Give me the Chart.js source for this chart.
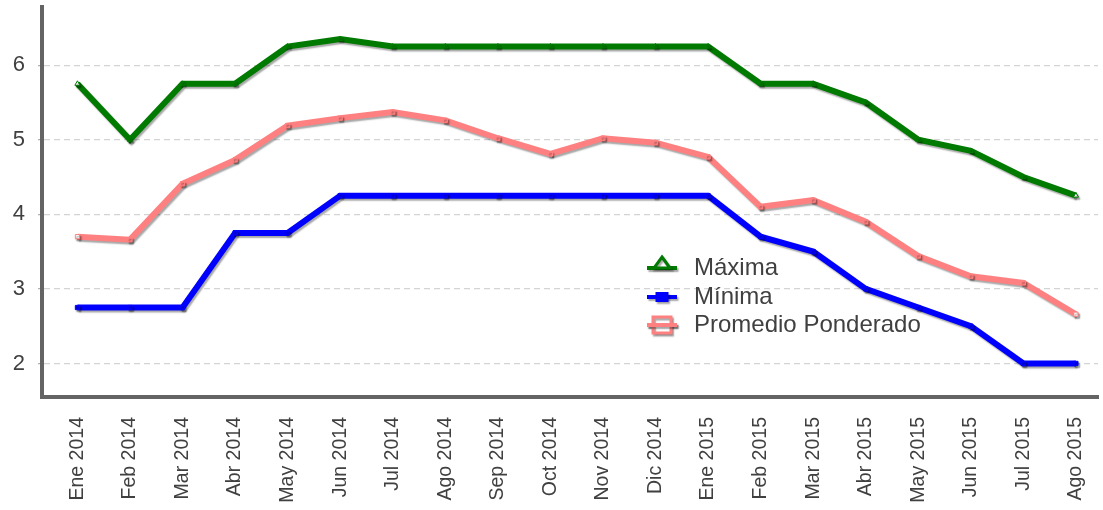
<!DOCTYPE html>
<html>
<head>
<meta charset="utf-8">
<script src="https://cdn.jsdelivr.net/npm/chart.js@4/dist/chart.umd.min.js"></script>
<style>
  html, body { margin: 0; padding: 0; background: #ffffff; }
  #wrap { width: 1103px; height: 510px; position: relative; }
</style>
</head>
<body>
<div id="wrap"><canvas id="c" width="1103" height="510"></canvas></div>
<script>
// Months shown on the horizontal axis
const months = ['Ene 2014','Feb 2014','Mar 2014','Abr 2014','May 2014','Jun 2014','Jul 2014','Ago 2014','Sep 2014','Oct 2014','Nov 2014','Dic 2014','Ene 2015','Feb 2015','Mar 2015','Abr 2015','May 2015','Jun 2015','Jul 2015','Ago 2015'];

// Rate series
const maxima   = [5.75,5.00,5.75,5.75,6.25,6.35,6.25,6.25,6.25,6.25,6.25,6.25,6.25,5.75,5.75,5.50,5.00,4.85,4.50,4.25];
const minima   = [2.75,2.75,2.75,3.75,3.75,4.25,4.25,4.25,4.25,4.25,4.25,4.25,4.25,3.70,3.50,3.00,2.75,2.50,2.00,2.00];
const promedio = [3.70,3.66,4.41,4.73,5.19,5.29,5.37,5.26,5.02,4.81,5.02,4.96,4.77,4.10,4.19,3.90,3.44,3.17,3.08,2.66];

// Value axis ticks
const yTicks = [2, 3, 4, 5, 6];

const FONT = "'Liberation Sans', Arial, sans-serif";
const TEXT = '#404040';
const AXIS = '#646464';
const GREEN = '#007a00';
const BLUE = '#0000ff';
const PINK = '#ff8080';

const toPoints = arr => arr.map((v, i) => ({ x: i, y: v }));
const last = months.length - 1;
// end markers are drawn hollow, inner ones filled with the line colour
const endHollow = color => c => (c.dataIndex === 0 || c.dataIndex === last) ? '#ffffff' : color;

function setShadow(ctx) {
  ctx.shadowColor = 'rgba(0,0,0,0.35)';
  ctx.shadowOffsetX = 1.5;
  ctx.shadowOffsetY = 2;
  ctx.shadowBlur = 1.5;
}

// Soft drop shadow under each series line
const shadowPlugin = {
  id: 'lineShadow',
  beforeDatasetDraw(chart) {
    chart.ctx.save();
    setShadow(chart.ctx);
  },
  afterDatasetDraw(chart) {
    chart.ctx.restore();
  }
};

// Legend placed inside the plot: a line stub with the series marker, then the label
const innerLegend = {
  id: 'innerLegend',
  afterDatasetsDraw(chart, args, opts) {
    const ctx = chart.ctx;
    const x0 = opts.x;
    chart.data.datasets.forEach((ds, i) => {
      const y = opts.rows[i];
      const cx = x0 + 15;
      ctx.save();
      setShadow(ctx);
      ctx.strokeStyle = ds.borderColor;
      ctx.lineWidth = 4;
      ctx.beginPath();
      ctx.moveTo(x0, y);
      ctx.lineTo(x0 + 30, y);
      ctx.stroke();
      ctx.lineWidth = 3;
      if (ds.legendMarker === 'triangle') {
        ctx.fillStyle = '#ffffff';
        ctx.beginPath();
        ctx.moveTo(cx, y - 11);
        ctx.lineTo(cx + 8, y);
        ctx.lineTo(cx - 8, y);
        ctx.closePath();
        ctx.fill();
        ctx.stroke();
      } else if (ds.legendMarker === 'hollowRect') {
        ctx.fillStyle = '#ffffff';
        ctx.fillRect(cx - 9, y - 8, 18, 16);
        ctx.strokeRect(cx - 9, y - 8, 18, 16);
        ctx.beginPath();
        ctx.moveTo(x0, y);
        ctx.lineTo(x0 + 30, y);
        ctx.lineWidth = 4;
        ctx.stroke();
      } else {
        ctx.fillStyle = ds.borderColor;
        ctx.fillRect(cx - 6.5, y - 5, 13, 10);
      }
      ctx.restore();
      ctx.save();
      ctx.fillStyle = TEXT;
      ctx.font = opts.fontSize + 'px ' + FONT;
      ctx.textAlign = 'left';
      ctx.textBaseline = 'middle';
      ctx.fillText(ds.label, x0 + 47, y);
      ctx.restore();
    });
  }
};

new Chart(document.getElementById('c'), {
  type: 'line',
  data: {
    datasets: [
      {
        label: 'Máxima',
        legendMarker: 'triangle',
        data: toPoints(maxima),
        borderColor: GREEN,
        backgroundColor: GREEN,
        pointBackgroundColor: endHollow(GREEN),
        pointBorderColor: GREEN,
        pointBorderWidth: 1,
        pointStyle: 'triangle',
        pointRadius: 3,
        borderWidth: 6,
        tension: 0
      },
      {
        label: 'Mínima',
        legendMarker: 'rect',
        data: toPoints(minima),
        borderColor: BLUE,
        backgroundColor: BLUE,
        pointBackgroundColor: BLUE,
        pointBorderColor: BLUE,
        pointBorderWidth: 1,
        pointStyle: 'rect',
        pointRadius: 3,
        borderWidth: 6,
        tension: 0
      },
      {
        label: 'Promedio Ponderado',
        legendMarker: 'hollowRect',
        data: toPoints(promedio),
        borderColor: PINK,
        backgroundColor: PINK,
        pointBackgroundColor: endHollow(PINK),
        pointBorderColor: PINK,
        pointBorderWidth: 1,
        pointStyle: 'rect',
        pointRadius: 3,
        borderWidth: 6,
        tension: 0
      }
    ]
  },
  options: {
    responsive: false,
    animation: false,
    layout: { padding: { top: 7, right: 0, left: 0, bottom: 0 } },
    plugins: {
      legend: { display: false },
      tooltip: { enabled: false },
      innerLegend: { x: 647, rows: [268, 297, 325], fontSize: 24 }
    },
    scales: {
      x: {
        type: 'linear',
        min: -0.6745,
        max: 19.42,
        afterBuildTicks: axis => { axis.ticks = months.map((m, i) => ({ value: i })); },
        afterFit: axis => {
          axis.height = 113;
          axis.paddingLeft = 0; axis.paddingRight = 0;
        },
        grid: { display: false, drawTicks: false },
        border: { display: true, color: AXIS, width: 4 },
        ticks: {
          autoSkip: false,
          minRotation: 90,
          maxRotation: 90,
          padding: 20,
          color: TEXT,
          font: { family: FONT, size: 19.5 },
          callback: v => months[v]
        }
      },
      y: {
        type: 'linear',
        min: 1.55,
        max: 6.78,
        afterBuildTicks: axis => { axis.ticks = yTicks.map(v => ({ value: v })); },
        afterFit: axis => {
          axis.width = 42;
          axis.paddingTop = 0; axis.paddingBottom = 0;
        },
        grid: {
          color: '#d4d4d4',
          lineWidth: 1.2,
          tickLength: 4,
          tickColor: '#b0b0b0'
        },
        border: { display: true, color: AXIS, width: 4, dash: [6, 4] },
        ticks: {
          padding: 13,
          color: TEXT,
          font: { family: FONT, size: 22 },
          callback: v => String(v)
        }
      }
    }
  },
  plugins: [shadowPlugin, innerLegend]
});
</script>
</body>
</html>
